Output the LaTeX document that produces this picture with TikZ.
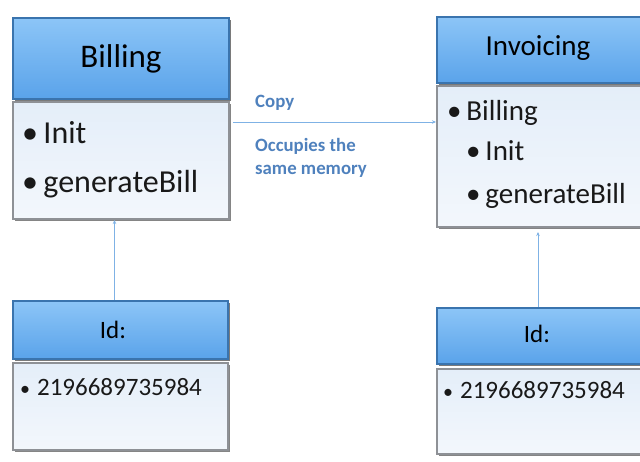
\documentclass[tikz,border=0pt]{standalone}
\usepackage{fontspec}
\setmainfont{Carlito}
\usetikzlibrary{shadows,arrows.meta}
\definecolor{hdtop}{HTML}{8CC5F7}
\definecolor{hdbot}{HTML}{5AA3EA}
\definecolor{hdline}{HTML}{3A74AE}
\definecolor{bdtop}{HTML}{E4EEF9}
\definecolor{bdbot}{HTML}{F3F7FC}
\definecolor{bdline}{HTML}{8E9196}
\definecolor{conn}{HTML}{7FB2E5}
\definecolor{lbl}{HTML}{4F81BD}
\tikzset{
  headbox/.style={rectangle, anchor=north west, inner sep=0pt, top color=hdtop, bottom color=hdbot,
    draw=hdline, line width=2pt, drop shadow={shadow xshift=2pt, shadow yshift=-1.5pt, fill=black!65, opacity=0.8}},
  bodybox/.style={rectangle, anchor=north west, inner sep=0pt, top color=bdtop, bottom color=bdbot,
    draw=bdline, line width=2pt, drop shadow={shadow xshift=2pt, shadow yshift=-1.5pt, fill=black!60, opacity=0.8}},
  itemtxt/.style={anchor=base west, inner sep=0pt, text=black!90},
  conline/.style={draw=conn, line width=1pt, -{Stealth[length=4pt,width=3.5pt]}},
  lbltxt/.style={anchor=base west, inner sep=0pt, text=lbl, font=\bfseries\fontsize{18.8}{22}\selectfont}
}
\begin{document}
\begin{tikzpicture}[x=1pt,y=-1pt]
\useasboundingbox (0,0) rectangle (640,461);
\clip (0,0) rectangle (640,461);
% Billing
\node[headbox, minimum width=216pt, minimum height=81pt, font=\fontsize{33}{36}\selectfont] (bh) at (12,17) {Billing};
\node[bodybox, minimum width=216pt, minimum height=117pt] (bb) at (12,101) {};
\node[itemtxt, font=\fontsize{32}{36}\selectfont] (b1) at (22,143) {•\,Init};
\node[itemtxt, font=\fontsize{32}{36}\selectfont] (b2) at (22,192) {•\,generateBill};
% Invoicing
\node[headbox, minimum width=216pt, minimum height=66pt] (ih) at (436,16) {};
\node[anchor=base, inner sep=0pt, font=\fontsize{29}{32}\selectfont] (it) at (538,55) {Invoicing};
\node[bodybox, minimum width=216pt, minimum height=141pt] (ib) at (436,85) {};
\node[itemtxt, font=\fontsize{29}{32}\selectfont] (i1) at (447,120) {•\,Billing};
\node[itemtxt, font=\fontsize{29}{32}\selectfont] (i2) at (466,160) {•\,Init};
\node[itemtxt, font=\fontsize{29}{32}\selectfont] (i3) at (466,203) {•\,generateBill};
% Id left
\node[headbox, minimum width=215pt, minimum height=58pt] (lh) at (12,300) {};
\node[anchor=base, inner sep=0pt, font=\fontsize{25}{28}\selectfont] (lt) at (113,338) {Id:};
\node[bodybox, minimum width=215pt, minimum height=87pt] (lb) at (12,362) {};
\node[itemtxt, font=\fontsize{25}{28}\selectfont] (l1) at (20,395) {{\fontsize{20}{20}\selectfont•}\;2196689735984};
% Id right
\node[headbox, minimum width=216pt, minimum height=56pt] (rh) at (436,307) {};
\node[anchor=base, inner sep=0pt, font=\fontsize{25}{28}\selectfont] (rt) at (537,342) {Id:};
\node[bodybox, minimum width=216pt, minimum height=85pt] (rb) at (436,368) {};
\node[itemtxt, font=\fontsize{25}{28}\selectfont] (r1) at (443,398) {{\fontsize{20}{20}\selectfont•}\;2196689735984};
% connectors
\coordinate (a1) at ([xshift=3pt,yshift=-21pt]bb.north east);
\draw[conline] (a1) -- (a1 -| ib.west);
\coordinate (v1) at ([xshift=-6pt]lh.north);
\draw[conline] (v1) -- (v1 |- bb.south);
\coordinate (v2) at ([xshift=-7pt]rh.north);
\draw[conline] (v2) -- ([yshift=-4pt]v2 |- ib.south);
% labels
\node[lbltxt] (c1) at (255,107) {Copy};
\node[lbltxt] (c2) at (255,151) {Occupies the};
\node[lbltxt] (c3) at (255,174) {same memory};
\end{tikzpicture}
\end{document}
